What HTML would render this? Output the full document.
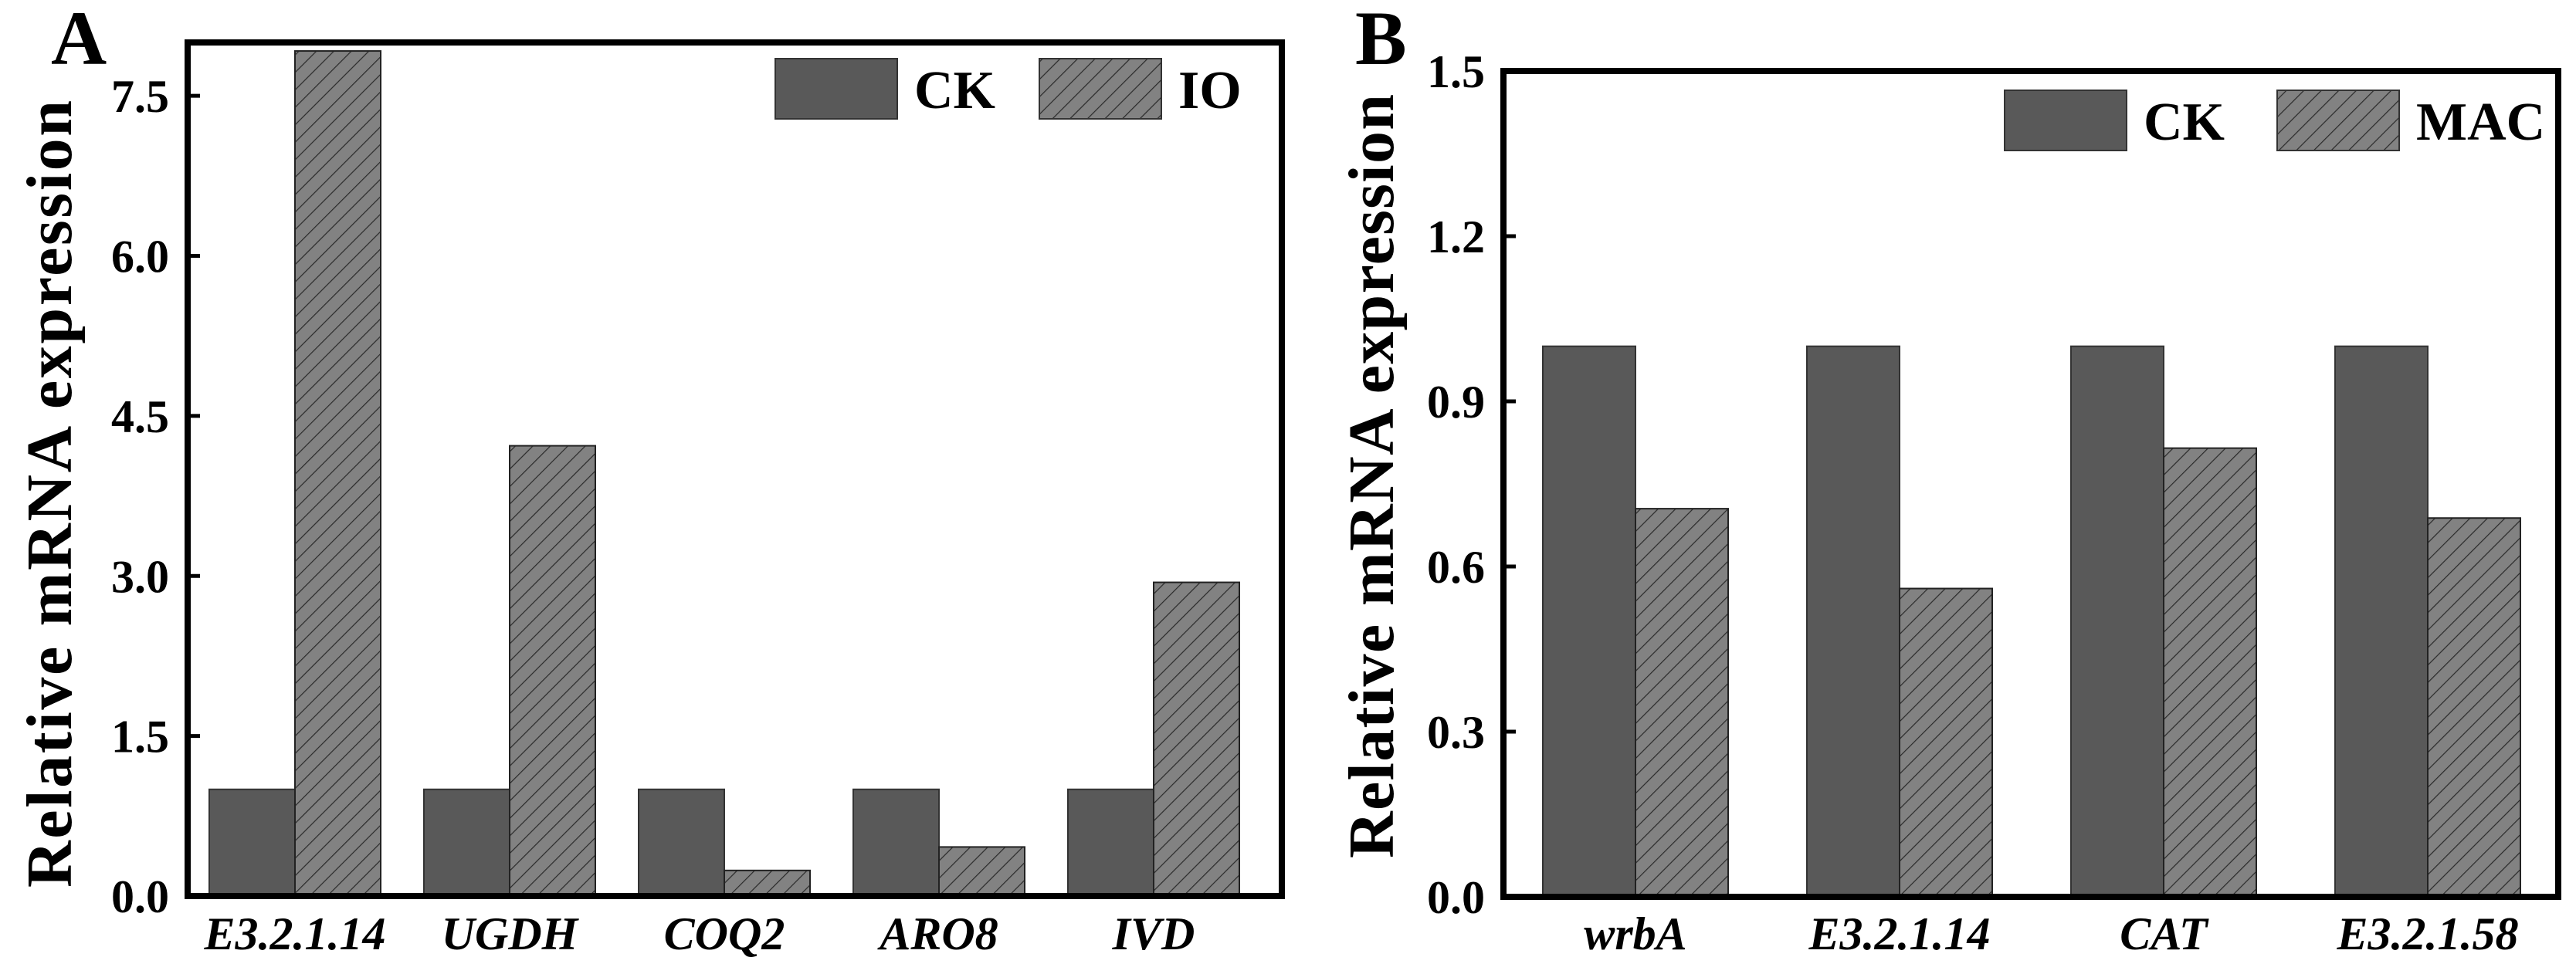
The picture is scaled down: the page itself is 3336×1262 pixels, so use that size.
<!DOCTYPE html>
<html><head><meta charset="utf-8"><style>
html,body{margin:0;padding:0;background:#fff;}
svg{display:block;}
</style></head><body>
<svg id="fig" width="3336" height="1262" viewBox="0 0 3336 1262" xmlns="http://www.w3.org/2000/svg">
<defs>
<pattern id="hatch" patternUnits="userSpaceOnUse" width="16" height="16" patternTransform="rotate(45)">
<rect width="16" height="16" fill="#828282"/>
<line x1="0" y1="0" x2="0" y2="16" stroke="#2a2a2a" stroke-width="2.4"/>
</pattern>
</defs>
<g id="panelA"></g>
<g id="panelB"></g>
</svg>
<script>
const catsA = ["E3.2.1.14","UGDH","COQ2","ARO8","IVD"];
const ckA = [1,1,1,1,1];
const ioA = [7.92,4.22,0.24,0.46,2.94];
const ticksA = [0,1.5,3.0,4.5,6.0,7.5];
const tickLabelsA = ["0.0","1.5","3.0","4.5","6.0","7.5"];
const seriesNamesA = ["CK","IO"];

const catsB = ["wrbA","E3.2.1.14","CAT","E3.2.1.58"];
const ckB = [1,1,1,1];
const macB = [0.705,0.56,0.815,0.688];
const ticksB = [0,0.3,0.6,0.9,1.2,1.5];
const tickLabelsB = ["0.0","0.3","0.6","0.9","1.2","1.5"];
const seriesNamesB = ["CK","MAC"];

const NS="http://www.w3.org/2000/svg";
function mk(parent, tag, attrs){const e=document.createElementNS(NS,tag);for(const k in attrs)e.setAttribute(k,attrs[k]);parent.appendChild(e);return e;}

function drawPanel(g, cfg){
  const {L,R,T,B,ymax,cats,s1,s2,ticks,tickLabels,names,band,bw,x0,letter,letterX,titleX,titleY,titleLen,legend}=cfg;
  const y=v=>B-(v/ymax)*(B-T);
  cats.forEach((c,i)=>{
    const cx=x0+band*i;
    const r1=mk(g,"rect",{x:cx-bw,y:y(s1[i]),width:bw,height:B-y(s1[i]),fill:"#595959",stroke:"#333","stroke-width":2});
    
    
    const r2=mk(g,"rect",{x:cx,y:y(s2[i]),width:bw,height:B-y(s2[i]),fill:"url(#hatch)",stroke:"#222","stroke-width":2});
    
    
    const t=mk(g,"text",{x:cx,y:1230,"text-anchor":"middle","font-family":"Liberation Serif, serif","font-weight":"bold","font-style":"italic","font-size":60});
    t.textContent=c;
    
    
  });
  ticks.forEach((v,i)=>{
    const tk=mk(g,"line",{x1:L,x2:L+16,y1:y(v),y2:y(v),stroke:"#000","stroke-width":5});
    
    
    const t=mk(g,"text",{x:L-24,y:y(v)+21,"text-anchor":"end","font-family":"Liberation Serif, serif","font-weight":"bold","font-size":60});
    t.textContent=tickLabels[i];
    
    
  });
  const fr=mk(g,"rect",{x:L,y:T,width:R-L,height:B-T,fill:"none",stroke:"#000","stroke-width":8});
  
  
  const yt=mk(g,"text",{x:0,y:0,transform:`translate(${titleX},${titleY}) rotate(-90)`,"text-anchor":"middle","font-family":"Liberation Serif, serif","font-weight":"bold","font-size":84,textLength:titleLen,lengthAdjust:"spacing"});
  yt.textContent="Relative mRNA expression";
  
  
  const pl=mk(g,"text",{x:letterX,y:83,"font-family":"Liberation Serif, serif","font-weight":"bold","font-size":100});
  pl.textContent=letter;
  
  
  legend.forEach((lg,i)=>{
    const lr=mk(g,"rect",{x:lg.x,y:lg.y,width:158,height:78,fill:i===0?"#595959":"url(#hatch)",stroke:"#333","stroke-width":2});
    
    
    const lt=mk(g,"text",{x:lg.x+180,y:lg.y+64,"font-family":"Liberation Serif, serif","font-weight":"bold","font-size":70});
    lt.textContent=names[i];
    
    
  });
}

drawPanel(document.getElementById('panelA'),{L:243,R:1660,T:55,B:1161,ymax:8.0,cats:catsA,s1:ckA,s2:ioA,ticks:ticksA,tickLabels:tickLabelsA,names:seriesNamesA,band:278,bw:111,x0:382,letter:"A",letterX:66,titleX:92,titleY:640,titleLen:1020,legend:[{x:1004,y:76},{x:1346,y:76}]});
drawPanel(document.getElementById('panelB'),{L:1947,R:3313,T:92,B:1162,ymax:1.5,cats:catsB,s1:ckB,s2:macB,ticks:ticksB,tickLabels:tickLabelsB,names:seriesNamesB,band:342,bw:120,x0:2118,letter:"B",letterX:1755,titleX:1804,titleY:617,titleLen:990,legend:[{x:2596,y:117},{x:2949,y:117}]});
</script>
</body></html>
